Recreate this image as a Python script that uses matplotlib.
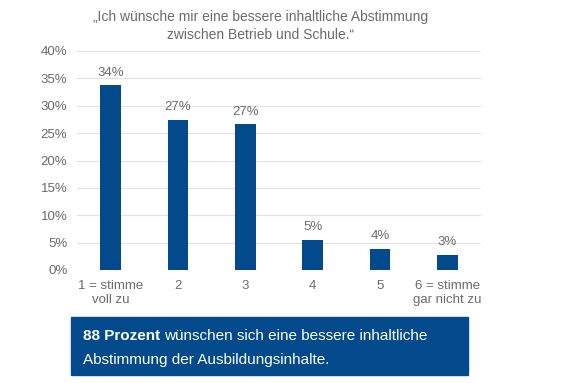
import matplotlib.pyplot as plt
from matplotlib.patches import Rectangle

categories = ['1 = stimme\nvoll zu', '2', '3', '4', '5', '6 = stimme\ngar nicht zu']
values = [33.7, 27.4, 26.6, 5.5, 3.9, 2.8]
value_labels = ['34%', '27%', '27%', '5%', '4%', '3%']
yticks = [0, 5, 10, 15, 20, 25, 30, 35, 40]

blue = '#024a8c'
grey = '#6b6b6b'
plt.rcParams['font.family'] = ['Liberation Sans', 'DejaVu Sans']

fig = plt.figure(figsize=(5.76, 3.83), dpi=100)
ax = fig.add_axes([77 / 576, 1 - 270 / 383, 404 / 576, 219 / 383])

x = list(range(len(categories)))
ax.bar(x, values, width=0.31, color=blue, zorder=3)
for xi, v, lab in zip(x, values, value_labels):
    ax.text(xi, v + 1.2, lab, ha='center', va='bottom', fontsize=9.5, color=grey)

ax.set_xlim(-0.5, len(categories) - 0.5)
ax.set_ylim(0, 40)
ax.set_yticks(yticks)
ax.set_yticklabels([f'{t}%' for t in yticks], fontsize=9.5, color=grey)
ax.set_xticks(x)
ax.set_xticklabels(categories, fontsize=9.5, color=grey, linespacing=1.3)
ax.tick_params(length=0, pad=7)
ax.grid(axis='y', color='#e2e2e2', linewidth=0.8, zorder=0)
for s in ax.spines.values():
    s.set_visible(False)

fig.text(261 / 576, 1 - 26 / 383,
         '\u201eIch w\u00fcnsche mir eine bessere inhaltliche Abstimmung\nzwischen Betrieb und Schule.\u201c',
         ha='center', va='center', fontsize=10, color=grey, linespacing=1.3)

box = Rectangle((71 / 576, 1 - 375 / 383), 397 / 576, 58 / 383,
                transform=fig.transFigure, color=blue, zorder=1)
fig.patches.append(box)
bold = fig.text(83 / 576, 1 - 336 / 383, '88 Prozent ', fontsize=11, color='white',
                fontweight='bold', va='center')
fig.canvas.draw()
bb = bold.get_window_extent().transformed(fig.transFigure.inverted())
fig.text(bb.x1, 1 - 336 / 383, 'w\u00fcnschen sich eine bessere inhaltliche',
         fontsize=11, color='white', va='center')
fig.text(83 / 576, 1 - 360 / 383, 'Abstimmung der Ausbildungsinhalte.',
         fontsize=11, color='white', va='center')

fig.savefig('out.png', dpi=100)
